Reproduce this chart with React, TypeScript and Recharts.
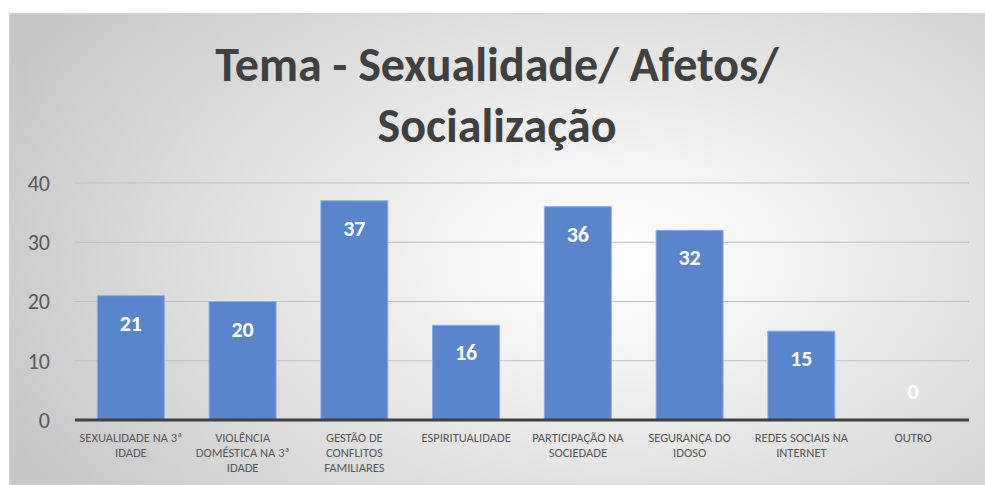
import { ComposedChart, Bar, Line, XAxis, YAxis, CartesianGrid, LabelList } from 'recharts';

const categories = [
    'SEXUALIDADE NA 3ª IDADE',
    'VIOLÊNCIA DOMÉSTICA NA 3ª IDADE',
    'GESTÃO DE CONFLITOS FAMILIARES',
    'ESPIRITUALIDADE',
    'PARTICIPAÇÃO NA SOCIEDADE',
    'SEGURANÇA DO IDOSO',
    'REDES SOCIAIS NA INTERNET',
    'OUTRO',
];

const values = [21, 20, 37, 16, 36, 32, 15, 0];

// how Excel wrapped each category label
const tickLines = [
    ['SEXUALIDADE NA 3ª', 'IDADE'],
    ['VIOLÊNCIA', 'DOMÉSTICA NA 3ª', 'IDADE'],
    ['GESTÃO DE', 'CONFLITOS', 'FAMILIARES'],
    ['ESPIRITUALIDADE'],
    ['PARTICIPAÇÃO NA', 'SOCIEDADE'],
    ['SEGURANÇA DO', 'IDOSO'],
    ['REDES SOCIAIS NA', 'INTERNET'],
    ['OUTRO'],
];

const yTicks = [0, 10, 20, 30, 40];

const data = categories.map((name, i) => ({ name, value: values[i] }));

const FONT = 'Carlito, Lato, "Open Sans", sans-serif';

function CategoryTick(props: any) {
    const { x, y, payload, index } = props;
    const lines = tickLines[index] ?? [payload.value];
    return (
        <g transform={`translate(${x},${y})`}>
            {lines.map((line: string, i: number) => (
                <text
                    key={i}
                    x={0}
                    y={14 + i * 15}
                    textAnchor="middle"
                    fill="#595959"
                    fontSize={12.5}
                    fontFamily={FONT}
                >
                    {line}
                </text>
            ))}
        </g>
    );
}

// labels hang off an invisible line so the zero bar still gets one
function ValueLabel(props: any) {
    const { x, y, value } = props;
    // zero value: Excel puts the label just above the axis
    const ty = value < 3 ? y - 21 : y + 35;
    return (
        <text
            x={x}
            y={ty}
            textAnchor="middle"
            fill="#ffffff"
            fontSize={22}
            fontWeight="bold"
            fontFamily={FONT}
        >
            {value}
        </text>
    );
}

export default function App() {
    return (
        <div
            style={{
                position: 'absolute',
                left: 9,
                top: 13,
                width: 976,
                height: 472,
                border: '1px solid #d4d4d4',
                boxSizing: 'border-box',
                background: 'radial-gradient(ellipse 70% 90% at 62% 52%, #ffffff 0%, #f3f3f3 25%, #c6c6c6 100%)',
                fontFamily: FONT,
            }}
        >
            <div
                style={{
                    position: 'absolute',
                    left: 0,
                    top: 20,
                    width: '100%',
                    textAlign: 'center',
                    fontSize: 48,
                    fontWeight: 'bold',
                    color: '#404040',
                    lineHeight: '61px',
                }}
            >
                Tema - Sexualidade/ Afetos/
                <br />
                Socialização
            </div>
            <ComposedChart
                width={976}
                height={472}
                data={data}
                barCategoryGap="20%"
                margin={{ top: 169, right: 17, left: 0, bottom: 0 }}
            >
                <CartesianGrid vertical={false} stroke="#bfbfbf" />
                <XAxis
                    dataKey="name"
                    interval={0}
                    height={66}
                    tickLine={false}
                    axisLine={{ stroke: '#404040', strokeWidth: 3 }}
                    tick={<CategoryTick />}
                />
                <YAxis
                    domain={[0, 40]}
                    ticks={yTicks}
                    width={65}
                    tickLine={false}
                    axisLine={false}
                    tickSize={0}
                    tickMargin={25}
                    tick={{ fill: '#595959', fontSize: 22, fontFamily: FONT }}
                />
                <Bar dataKey="value" fill="#5a84cc" stroke="#8eaee4" strokeWidth={1} isAnimationActive={false} />
                <Line
                    dataKey="value"
                    stroke="none"
                    dot={false}
                    activeDot={false}
                    legendType="none"
                    isAnimationActive={false}
                >
                    <LabelList dataKey="value" content={<ValueLabel />} />
                </Line>
            </ComposedChart>
        </div>
    );
}
